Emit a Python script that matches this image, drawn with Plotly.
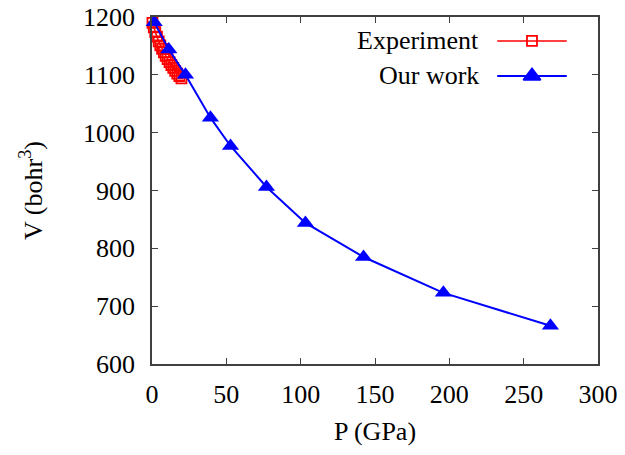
import plotly.graph_objects as go

# Experimental compression data (pressure in GPa, volume in bohr^3)
exp_p = [0.3, 1.2, 2.2, 3.3, 4.5, 5.6, 6.8, 8.0, 9.2, 10.5, 11.8, 13.0, 14.3, 15.6, 17.0, 18.4, 19.8]
exp_v = [1190, 1182, 1174, 1166, 1158, 1151, 1145, 1139, 1133, 1127, 1122, 1117, 1112, 1107, 1102, 1098, 1094]

# Calculated equation of state
calc_p = [1.5, 11.3, 22.5, 39.3, 52.8, 77.0, 103.2, 142.3, 196.0, 268.0]
calc_v = [1191, 1144, 1100, 1026, 977, 906, 844, 785, 723, 666]

legend_names = ["Experiment", "Our work"]

RED = "#ff0000"
BLUE = "#0000ff"
AXIS = "#404040"
FONT = "Liberation Serif"
FS = 26

fig = go.Figure()

fig.add_trace(go.Scatter(
    x=exp_p, y=exp_v, mode="lines+markers", name=legend_names[0],
    line=dict(color=RED, width=1.5),
    marker=dict(symbol="square-open", size=10, color=RED, line=dict(width=1.8, color=RED)),
    showlegend=False, cliponaxis=False,
))
fig.add_trace(go.Scatter(
    x=calc_p, y=calc_v, mode="lines+markers", name=legend_names[1],
    line=dict(color=BLUE, width=2),
    marker=dict(symbol="triangle-up", size=15, color=BLUE),
    showlegend=False, cliponaxis=False,
))

# Key drawn in the top-right corner: label on the left, sample on the right
key_rows = [(0.931, RED, "square-open", 10), (0.830, BLUE, "triangle-up", 15)]
for (ky, col, sym, sz), name in zip(key_rows, legend_names):
    fig.add_shape(type="line", xref="paper", yref="paper",
                  x0=0.774, x1=0.930, y0=ky, y1=ky,
                  line=dict(color=col, width=2 if col == BLUE else 1.5))
    fig.add_trace(go.Scatter(
        x=[0.852], y=[ky], mode="markers", xaxis="x2", yaxis="y2",
        marker=dict(symbol=sym, size=sz, color=col, line=dict(width=1.8, color=col)),
        showlegend=False, hoverinfo="skip", cliponaxis=False,
    ))
    fig.add_annotation(x=0.738, y=ky, xref="paper", yref="paper", text=name,
                       showarrow=False, xanchor="right", yanchor="middle",
                       font=dict(family=FONT, size=FS, color="#000000"))

axis_common = dict(
    showline=True, linecolor=AXIS, linewidth=1.5, mirror="ticks",
    ticks="inside", ticklen=6, tickwidth=1, tickcolor=AXIS,
    showgrid=False, zeroline=False, automargin=False,
    tickfont=dict(family=FONT, size=FS, color="#000000"),
)

fig.update_layout(
    width=625, height=455,
    margin=dict(l=151.5, r=27, t=17, b=90.5),
    paper_bgcolor="white", plot_bgcolor="white",
    xaxis=dict(range=[0, 300], tickvals=[0, 50, 100, 150, 200, 250, 300],
               ticklabelstandoff=6,
               title=dict(text="P (GPa)", font=dict(family=FONT, size=FS, color="#000000"), standoff=14),
               **axis_common),
    yaxis=dict(range=[600, 1200], tickvals=[600, 700, 800, 900, 1000, 1100, 1200],
               ticklabelstandoff=10,
               title=dict(text="V (bohr<sup>3</sup>)", font=dict(family=FONT, size=FS, color="#000000"), standoff=33),
               **axis_common),
    xaxis2=dict(range=[0, 1], overlaying="x", visible=False, fixedrange=True),
    yaxis2=dict(range=[0, 1], overlaying="y", visible=False, fixedrange=True),
)

fig.write_html("out.html")
